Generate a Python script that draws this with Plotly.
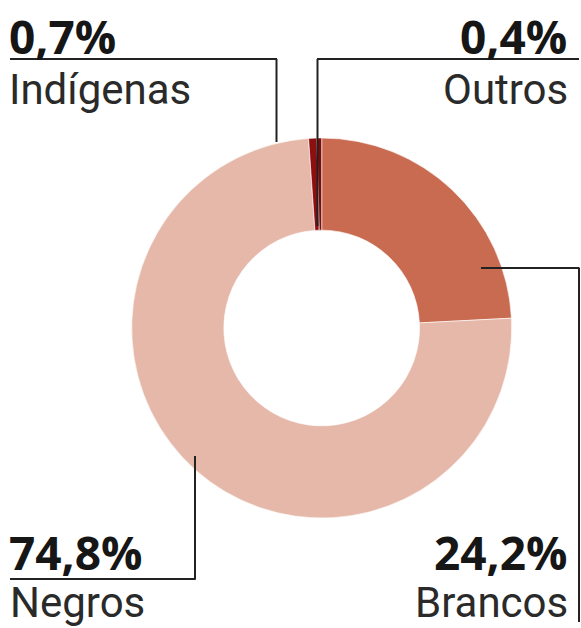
import plotly.graph_objects as go

# Population share by colour/race (%)
categories = ["Brancos", "Negros", "Indígenas", "Outros"]
shares = [24.2, 74.8, 0.7, 0.4]
share_labels = ["24,2%", "74,8%", "0,7%", "0,4%"]
colors = ["#C96B51", "#E6B8A9", "#8E0F0F", "#7E0A0A"]

W, H = 581, 628


def px(x):
    return x / W


def py(y):
    return 1 - y / H


# donut geometry in pixels
cx, cy, r_out = 321.7, 328.0, 190.0

fig = go.Figure(
    go.Pie(
        labels=categories,
        values=shares,
        sort=False,
        direction="clockwise",
        rotation=0,
        hole=0.515,
        marker=dict(colors=colors, line=dict(color="white", width=0.6)),
        textinfo="none",
        hoverinfo="label+percent",
        showlegend=False,
        domain=dict(x=[px(cx - r_out), px(cx + r_out)],
                    y=[py(cy + r_out), py(cy - r_out)]),
    )
)

line_style = dict(color="#222222", width=2)
# leader lines: (x0, y0, x1, y1) in pixels
leaders = [
    (10, 59, 277, 59), (276.5, 59, 276.5, 142),        # Indígenas
    (317, 59, 579, 59), (317.5, 59, 317.5, 226),       # Outros
    (481, 268, 579.5, 268), (579, 268, 579, 622),      # Brancos
    (195, 456, 195, 579.5), (10, 579, 195.5, 579),     # Negros
]
shapes = [
    dict(type="line", xref="paper", yref="paper",
         x0=px(a), y0=py(b), x1=px(c), y1=py(d), line=line_style)
    for a, b, c, d in leaders
]

value_font = dict(family="Open Sans, Roboto, sans-serif", size=46,
                  color="#161616", weight=700)
name_font = dict(family="Roboto, sans-serif", size=42, color="#2a2a2a")

# (text, x, y_center, anchor, font)
text_items = [
    (share_labels[2], 8, 36, "left", value_font),
    (categories[2], 8, 89, "left", name_font),
    (share_labels[3], 568, 36, "right", value_font),
    (categories[3], 569, 89, "right", name_font),
    (share_labels[1], 8, 552, "left", value_font),
    (categories[1], 9, 602, "left", name_font),
    (share_labels[0], 568, 552, "right", value_font),
    (categories[0], 569, 602, "right", name_font),
]
annotations = [
    dict(text=t, x=px(x), y=py(y), xref="paper", yref="paper",
         xanchor=anc, yanchor="middle", showarrow=False, font=f,
         borderpad=0)
    for t, x, y, anc, f in text_items
]

fig.update_layout(
    width=W, height=H,
    margin=dict(l=0, r=0, t=0, b=0),
    paper_bgcolor="white",
    plot_bgcolor="white",
    shapes=shapes,
    annotations=annotations,
)

fig.write_html("out.html")
